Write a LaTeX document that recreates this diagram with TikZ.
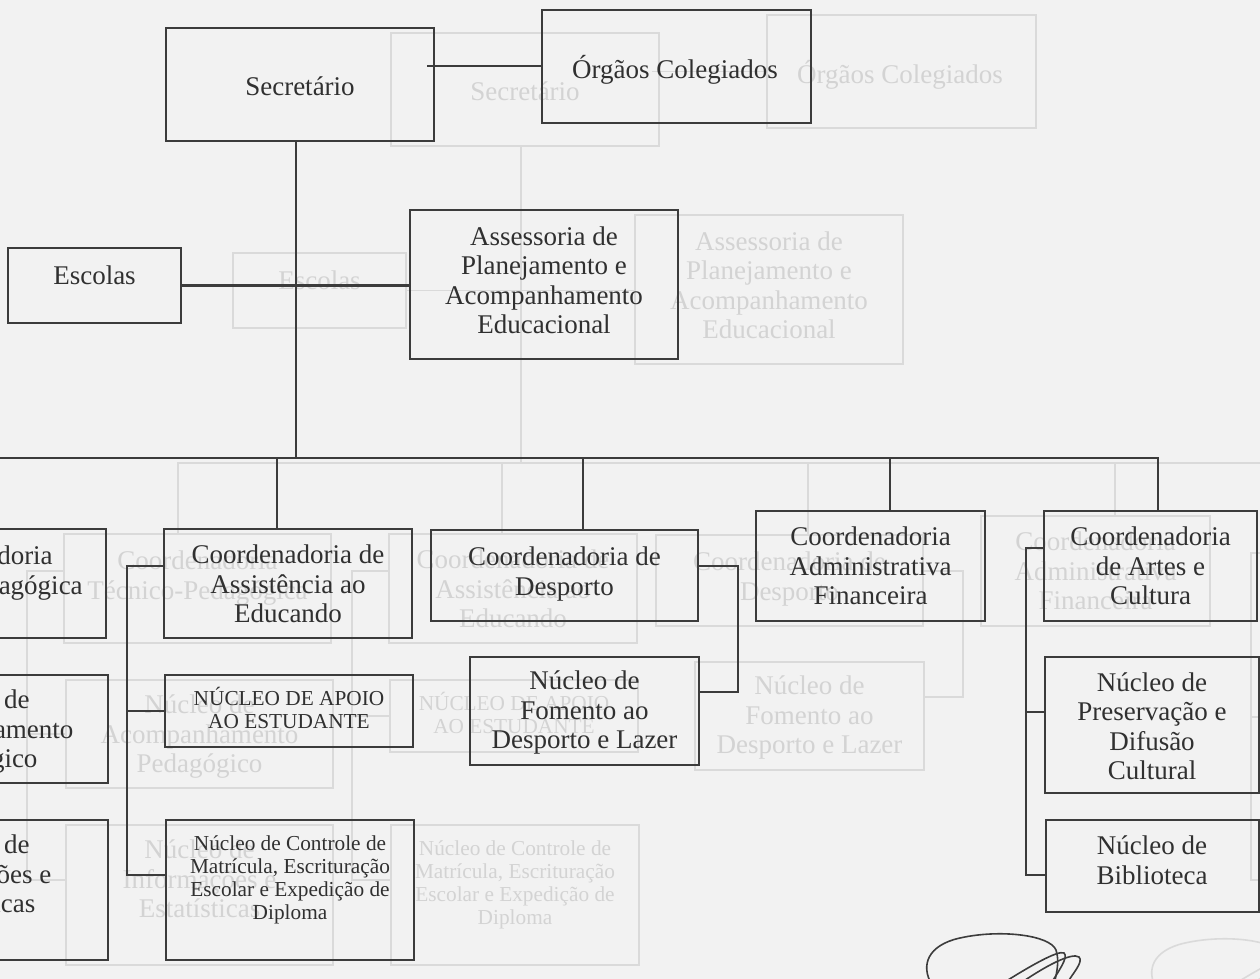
\documentclass[tikz,border=0pt]{standalone}
\usepackage{fontspec}
\setmainfont{Liberation Serif}
\definecolor{bg}{HTML}{F2F2F2}
\definecolor{ink}{HTML}{3C3C3C}
\definecolor{inktext}{HTML}{303030}
\definecolor{ghostline}{HTML}{DADADA}
\definecolor{ghosttext}{HTML}{D3D3D3}
\newcommand\bx[5]{\node[boxst, minimum width={((#4)-(#2))*0.5pt}, minimum height={((#5)-(#3))*0.5pt}] (#1) at ({((#2)+(#4))/2},{((#3)+(#5))/2}) {};}
\newcommand\tx[5]{\node[txt,#5] (#1) at (#2,#3) {\strut #4\strut};}
\tikzset{
  mainf/.style={font=\fontsize{13.5pt}{14.7pt}\selectfont},
  smallf/.style={font=\fontsize{10.65pt}{11.6pt}\selectfont},
  boxst/.style={ln, rectangle, inner sep=0pt, outer sep=0pt},
  txt/.style={tx, align=center, inner sep=0pt, mainf, yshift=-1.75pt},
}
\newcommand\chartbody{%
  % boxes
  \bx{sec}{166}{28}{434}{141}
  \bx{org}{542}{10}{811}{123}
  \bx{esc}{8}{248}{181}{323}
  \bx{ase}{410}{210}{678}{359}
  \bx{tec}{-161}{529}{106}{638}
  \bx{ast}{164}{529}{412}{638}
  \bx{dsp}{431}{530}{698}{621}
  \bx{adm}{756}{511}{985}{621}
  \bx{art}{1044}{511}{1257}{621}
  \bx{acp}{-159}{675}{108}{783}
  \bx{nap}{165}{675}{413}{747}
  \bx{fom}{470}{657}{699}{765}
  \bx{pre}{1045}{657}{1259}{793}
  \bx{inf}{-159}{820}{108}{960}
  \bx{ctl}{166}{820}{414}{960}
  \bx{bib}{1046}{820}{1259}{912}
  % texts
  \tx{sec-t}{300}{86}{Secretário}{}
  \tx{org-t}{675}{68}{Órgãos Colegiados}{}
  \tx{esc-t}{94.5}{275}{Escolas}{}
  \tx{ase-t}{544}{280}{Assessoria de\\Planejamento e\\Acompanhamento\\Educacional}{}
  \tx{tec-t}{-27.5}{570}{Coordenadoria\\Técnico-Pedagógica}{}
  \tx{ast-t}{288}{584}{Coordenadoria de\\Assistência ao\\Educando}{}
  \tx{dsp-t}{564.5}{571}{Coordenadoria de\\Desporto}{}
  \tx{adm-t}{870.5}{566}{Coordenadoria\\Administrativa\\Financeira}{}
  \tx{art-t}{1150.5}{566}{Coordenadoria\\de Artes e\\Cultura}{}
  \tx{acp-t}{-25.5}{729}{Núcleo de\\Acompanhamento\\Pedagógico}{}
  \tx{nap-t}{289}{708}{NÚCLEO DE APOIO\\AO ESTUDANTE}{smallf}
  \tx{fom-t}{584.5}{710}{Núcleo de\\Fomento ao\\Desporto e Lazer}{}
  \tx{pre-t}{1152}{726}{Núcleo de\\Preservação e\\Difusão\\Cultural}{}
  \tx{inf-t}{-25.5}{874}{Núcleo de\\Informações e\\Estatísticas}{}
  \tx{ctl-t}{290}{877}{Núcleo de Controle de\\Matrícula, Escrituração\\Escolar e Expedição de\\Diploma}{smallf}
  \tx{bib-t}{1152}{860}{Núcleo de\\Biblioteca}{}
  % connectors
  \coordinate (bt) at (296,458);
  \coordinate (bl) at (-47,458);
  \coordinate (br) at (1158,458);
  \coordinate (d2) at (277,458);
  \coordinate (d3) at (583,458);
  \coordinate (d4) at (890,458);
  \draw[ln] ([xshift=-3.5pt]sec.east |- org.west) -- (org.west);
  \draw[ln] (bt |- sec.south) -- (bt);
  \draw[ln] (esc.east) -- (esc.east -| ase.west);
  \draw[ln] (bl |- tec.north) -- (bl) -- (br) -- (br |- art.north);
  \draw[ln] (d2) -- (d2 |- ast.north);
  \draw[ln] (d3) -- (d3 |- dsp.north);
  \draw[ln] (d4) -- (d4 |- adm.north);
  % bracket of Tecnico-Pedagogica
  \coordinate (tb1) at (-198,566);
  \coordinate (tb2) at (-198,729);
  \coordinate (tb3) at (-198,875);
  \draw[ln] (tb1 -| tec.west) -- (tb1) -- (tb3) -- (tb3 -| inf.west);
  \draw[ln] (tb2) -- (tb2 -| acp.west);
  % bracket of Assistencia
  \coordinate (ab1) at (127,566);
  \coordinate (ab2) at (127,711);
  \coordinate (ab3) at (127,875);
  \draw[ln] (ab1 -| ast.west) -- (ab1) -- (ab3) -- (ab3 -| ctl.west);
  \draw[ln] (ab2) -- (ab2 -| nap.west);
  % bracket of Desporto
  \coordinate (db1) at (738,566);
  \coordinate (db2) at (738,692);
  \draw[ln] (db1 -| dsp.east) -- (db1) -- (db2) -- (db2 -| fom.east);
  % bracket of Artes
  \coordinate (rb1) at (1026,548);
  \coordinate (rb2) at (1026,712);
  \coordinate (rb3) at (1026,875);
  \draw[ln] (rb1 -| art.west) -- (rb1) -- (rb3) -- (rb3 -| bib.west);
  \draw[ln] (rb2) -- (rb2 -| pre.west);
  % signature
  \draw[ln, line width=0.8pt, line cap=round] (932,985) .. controls (920,965) and (928,945) .. (960,938)
     .. controls (1000,929) and (1050,935) .. (1056,950) .. controls (1060,962) and (1056,975) .. (1054,985);
  \draw[ln, line width=0.8pt, line cap=round] (1000,985) .. controls (1030,966) and (1058,950) .. (1064,953)
     .. controls (1069,957) and (1058,972) .. (1050,985);
  \draw[ln, line width=0.8pt, line cap=round] (1018,985) .. controls (1045,966) and (1072,952) .. (1079,957)
     .. controls (1084,962) and (1072,974) .. (1066,985);
}
\begin{document}
\begin{tikzpicture}[x=0.5pt, y=-0.5pt]
  \useasboundingbox (0,0) rectangle (1260,979);
  \clip (0,0) rectangle (1260,979);
  \fill[bg] (0,0) rectangle (1260,979);
  \begin{scope}[shift={(225,5)}, name prefix=g-,
      ln/.style={draw=ghostline, line width=0.8pt},
      tx/.style={text=ghosttext}]
    \chartbody
  \end{scope}
  \begin{scope}[ln/.style={draw=ink, line width=1pt},
      tx/.style={text=inktext}]
    \chartbody
  \end{scope}
\end{tikzpicture}
\end{document}
